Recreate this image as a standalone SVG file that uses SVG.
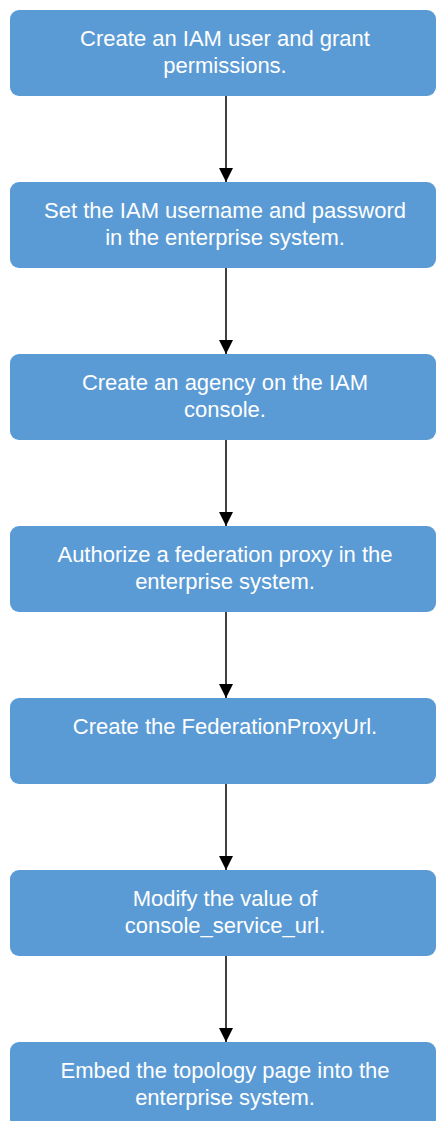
<svg xmlns="http://www.w3.org/2000/svg" width="436" height="1121" viewBox="0 0 436 1121">
<style>
.box{fill:#5B9BD5;}
.t{font-family:"Liberation Sans",Arial,sans-serif;font-size:22px;fill:#ffffff;text-anchor:middle;}
.c{stroke:#000000;stroke-width:1.5;fill:none;}
</style>
<defs>
<marker id="arr" markerUnits="userSpaceOnUse" markerWidth="14" markerHeight="14" refX="14" refY="7" orient="auto" viewBox="0 0 14 14">
<path d="M0,0 L14,7 L0,14 Z" fill="#000000"/>
</marker>
</defs>
<g id="connectors">
<line class="c" x1="226" y1="96" x2="226" y2="182" marker-end="url(#arr)"/>
<line class="c" x1="226" y1="268" x2="226" y2="354" marker-end="url(#arr)"/>
<line class="c" x1="226" y1="440" x2="226" y2="526" marker-end="url(#arr)"/>
<line class="c" x1="226" y1="612" x2="226" y2="698" marker-end="url(#arr)"/>
<line class="c" x1="226" y1="784" x2="226" y2="870" marker-end="url(#arr)"/>
<line class="c" x1="226" y1="956" x2="226" y2="1042" marker-end="url(#arr)"/>
</g>
<g id="n1">
<rect class="box" x="10" y="10" width="426" height="86" rx="9"/>
<text class="t" x="225" y="46">Create an IAM user and grant</text>
<text class="t" x="225" y="73">permissions.</text>
</g>
<g id="n2">
<rect class="box" x="10" y="182" width="426" height="86" rx="9"/>
<text class="t" x="225" y="218">Set the IAM username and password</text>
<text class="t" x="225" y="245">in the enterprise system.</text>
</g>
<g id="n3">
<rect class="box" x="10" y="354" width="426" height="86" rx="9"/>
<text class="t" x="225" y="390">Create an agency on the IAM</text>
<text class="t" x="225" y="417">console.</text>
</g>
<g id="n4">
<rect class="box" x="10" y="526" width="426" height="86" rx="9"/>
<text class="t" x="225" y="562">Authorize a federation proxy in the</text>
<text class="t" x="225" y="589">enterprise system.</text>
</g>
<g id="n5">
<rect class="box" x="10" y="698" width="426" height="86" rx="9"/>
<text class="t" x="225" y="734">Create the FederationProxyUrl.</text>
</g>
<g id="n6">
<rect class="box" x="10" y="870" width="426" height="86" rx="9"/>
<text class="t" x="225" y="906">Modify the value of</text>
<text class="t" x="225" y="933">console_service_url.</text>
</g>
<g id="n7">
<rect class="box" x="10" y="1042" width="426" height="86" rx="9"/>
<text class="t" x="225" y="1078">Embed the topology page into the</text>
<text class="t" x="225" y="1105">enterprise system.</text>
</g>
</svg>
